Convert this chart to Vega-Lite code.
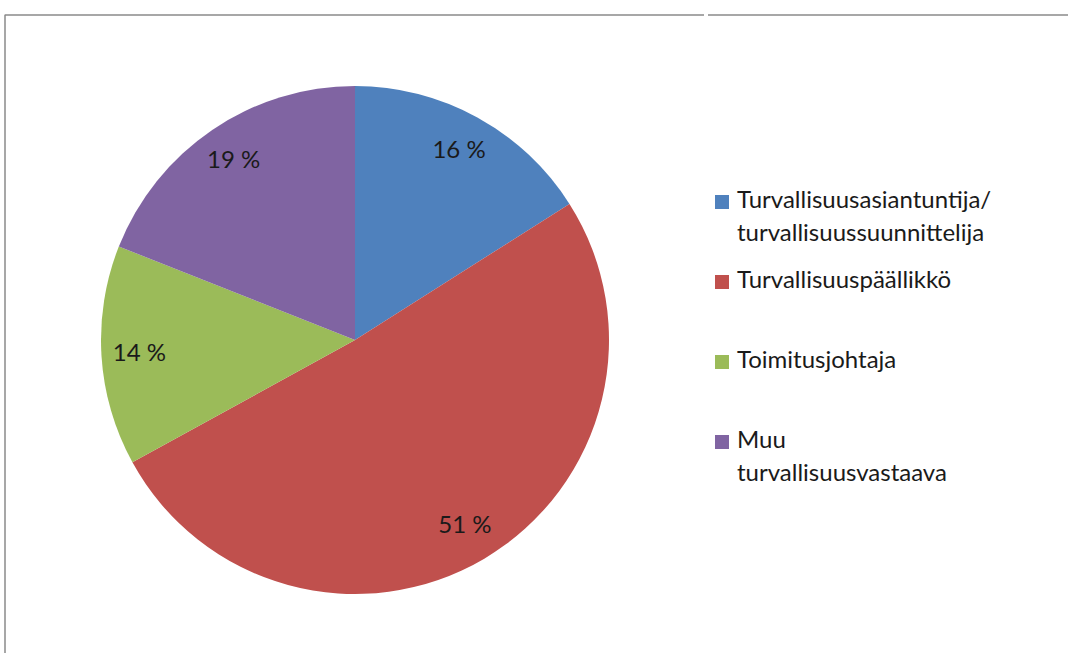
{
  "$schema": "https://vega.github.io/schema/vega-lite/v6.json",
  "padding": {"left": 4, "top": 14, "right": 0, "bottom": 0},
  "background": "white",
  "data": {"values": [
    {"i": 1, "role": "Turvallisuusasiantuntija/\nturvallisuussuunnittelija", "share": 16, "label": "16 %"},
    {"i": 2, "role": "Turvallisuuspäällikkö", "share": 51, "label": "51 %"},
    {"i": 3, "role": "Toimitusjohtaja", "share": 14, "label": "14 %"},
    {"i": 4, "role": "Muu\nturvallisuusvastaava", "share": 19, "label": "19 %"}
  ]},
  "spacing": 0,
  "hconcat": [
    {
      "width": 700,
      "height": 650,
      "view": {"stroke": "#8a8a8a", "strokeWidth": 1.5, "strokeJoin": "bevel", "strokeCap": "butt", "strokeDash": [699, 1351, 650]},
      "encoding": {
        "theta": {"field": "share", "type": "quantitative", "stack": true},
        "order": {"field": "i", "type": "quantitative"}
      },
      "layer": [
        {
          "mark": {"type": "arc", "outerRadius": 254, "strokeWidth": 0},
          "encoding": {
            "color": {
              "field": "role",
              "type": "nominal",
              "scale": {
                "domain": ["Turvallisuusasiantuntija/\nturvallisuussuunnittelija", "Turvallisuuspäällikkö", "Toimitusjohtaja", "Muu\nturvallisuusvastaava"],
                "range": ["#4F81BD", "#C0504D", "#9BBB59", "#8064A2"]
              },
              "legend": {
                "orient": "none",
                "legendX": 705,
                "legendY": 175,
                "title": null,
                "labelExpr": "length(split(datum.label,'\\n'))>1 ? split(datum.label,'\\n') : [datum.label,' ']"
              }
            }
          }
        },
        {
          "mark": {"type": "text", "radius": 216, "font": "Lato", "fontSize": 24, "fill": "#1a1a1a"},
          "encoding": {"text": {"field": "label", "type": "nominal"}}
        }
      ]
    },
    {
      "width": 364,
      "height": 650,
      "view": {"stroke": "#8a8a8a", "strokeWidth": 1.5, "strokeJoin": "bevel", "strokeCap": "butt", "strokeDash": [0, 1, 363, 1664]},
      "mark": {"type": "point", "opacity": 0},
      "encoding": {}
    }
  ],
  "config": {
    "legend": {
      "labelFont": "Lato",
      "labelFontSize": 24,
      "labelColor": "#1a1a1a",
      "labelLimit": 0,
      "labelBaseline": "top",
      "labelOffset": 3,
      "symbolType": "square",
      "symbolSize": 196,
      "symbolStrokeWidth": 0,
      "rowPadding": 23,
      "padding": 0
    },
    "style": {"guide-label": {"lineHeight": 33, "dy": -13}}
  }
}
